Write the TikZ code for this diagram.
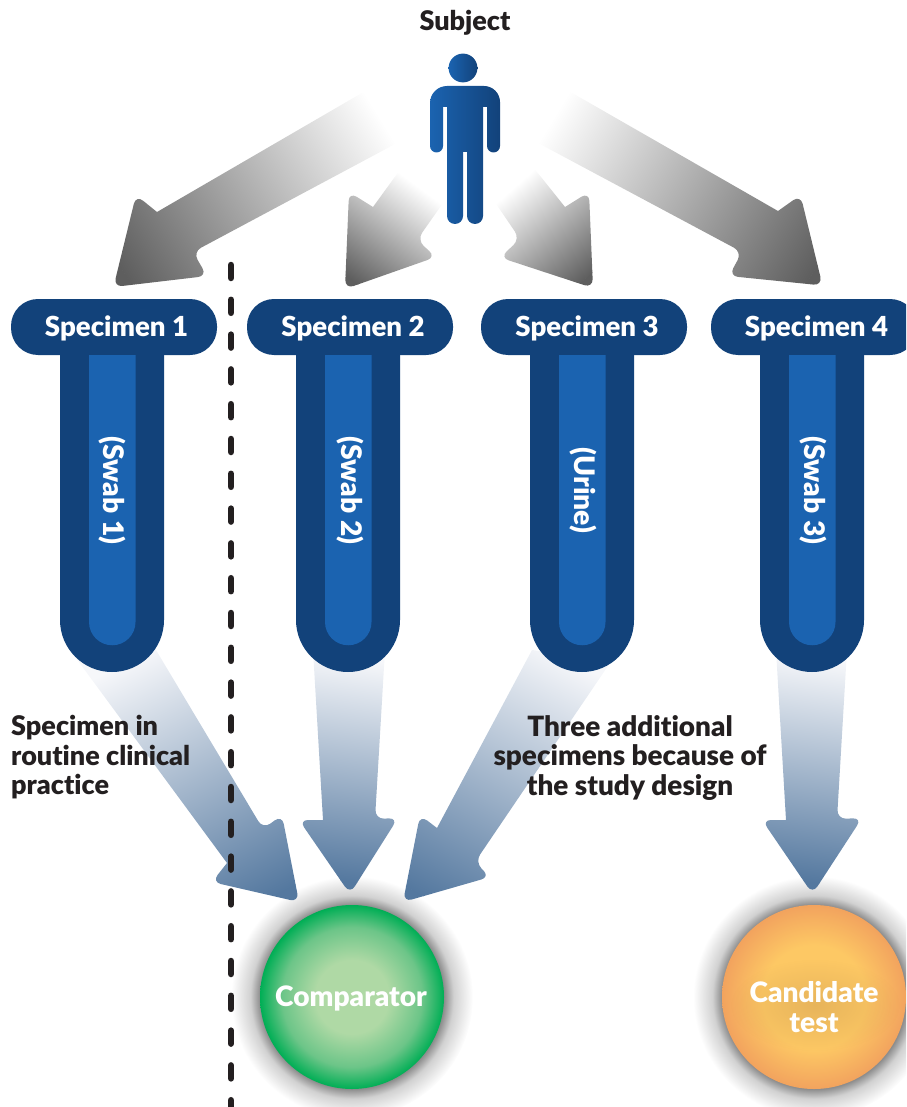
\documentclass[tikz,border=0pt]{standalone}
\usepackage{fontspec}
\setmainfont{Lato Black}[Ligatures=NoCommon]
\usetikzlibrary{fadings}
\definecolor{tubedark}{HTML}{12427A}
\definecolor{tubeblue}{HTML}{1B63B0}
\definecolor{txt}{HTML}{231F20}
\definecolor{gA}{HTML}{5E5E5E}
\definecolor{bA}{HTML}{54789F}
\definecolor{bM}{HTML}{B0BAD3}
\definecolor{bS}{HTML}{F6F7FA}
\definecolor{green1}{HTML}{AFD9A5}
\definecolor{green2}{HTML}{00AE55}
\definecolor{green3}{HTML}{6CC588}
\definecolor{or1}{HTML}{FDC864}
\definecolor{or2}{HTML}{F2A35E}
\pgfdeclareradialshading{glowshade}{\pgfpoint{0bp}{0bp}}{color(0bp)=(black!45);color(19bp)=(black!45);color(21bp)=(black!18);color(25bp)=(white);color(50bp)=(white)}
\pgfdeclareradialshading{greenball}{\pgfpoint{0bp}{0bp}}{color(0bp)=(green1);color(10bp)=(green1);color(19bp)=(green3);color(25bp)=(green2);color(50bp)=(green2)}
\pgfdeclareradialshading{orangeball}{\pgfpoint{0bp}{0bp}}{color(0bp)=(or1);color(14bp)=(or1);color(25bp)=(or2);color(50bp)=(or2)}
\tikzfading[name=softblob,inner color=transparent!55,outer color=transparent!100]
\tikzset{
  x=1pt,y=-1pt,
  pilltop/.style={fill=tubedark,draw=none,rounded corners=27pt},
  tubelabel/.style={text=white,font=\fontsize{28.3}{28.3}\selectfont,rotate=-90,inner sep=0pt},
  pilllabel/.style={text=white,font=\fontsize{27.6}{27.6}\selectfont,inner sep=0pt},
  bodylabel/.style={text=txt,font=\fontsize{27}{29.5}\selectfont,inner sep=0pt},
  midlabel/.style={text=txt,font=\fontsize{27.9}{29.5}\selectfont,inner sep=0pt},
  balllabel/.style={text=white,align=center,font=\fontsize{28.1}{29.5}\selectfont,inner sep=0pt},
  headround/.style={rounded corners=9pt}
}
\newcommand{\gradarrow}[8]{%
  \begin{scope}
    \clip #8;
    \pgfmathsetmacro{\gdx}{#3-#1}\pgfmathsetmacro{\gdy}{#4-#2}
    \pgfmathsetmacro{\gang}{atan2(-\gdy,\gdx)}
    \pgfmathsetmacro{\glen}{veclen(\gdx,\gdy)}
    \begin{scope}[shift={(#1,#2)},rotate=\gang]
      \pgflowlevelsynccm
      \fill[#6] (-400,-400) rectangle (0.5,400);
      \fill[#7] (\glen-0.5,-400) rectangle (\glen+400,400);
      \shade[#5] (0,-400) rectangle (\glen,400);
    \end{scope}
  \end{scope}}
\newcommand{\tube}[2]{% #1 tube left x, #2 pill left x
  \path[pilltop] (#2,299) rectangle (#2+206,355);
  \fill[tubedark] (#1,350) -- (#1+104,350) -- (#1+104,620) arc[start angle=0,end angle=180,radius=52] -- cycle;
  \fill[tubeblue] (#1+29,355) -- (#1+75.5,355) -- (#1+75.5,622) arc[start angle=0,end angle=180,radius=23.25] -- cycle;
}
\begin{document}
\begin{tikzpicture}
\useasboundingbox (0,0) rectangle (906,1107);
\begin{scope}
\clip (0,0) rectangle (906,1107);
% glow
\shade[shading=glowshade] (352,997) circle[radius=121];
\shade[shading=glowshade] (814,997) circle[radius=121];
% grey arrows
\gradarrow{380}{118}{125}{275}{left color=white,right color=gA}{white}{gA}{(367,90) -- (157,212) [headround] -- (136,195) -- (113.5,287) -- (207,276) -- (193,252) [sharp corners] -- (397,143) -- cycle}
\gradarrow{420}{188}{352}{280}{left color=white,right color=gA}{white}{gA}{(402,167) -- (373,207) [headround] -- (349,192) -- (345,289) -- (436,257) -- (417,240) [sharp corners] -- (443,203) -- cycle}
\gradarrow{513}{188}{590}{275}{left color=white,right color=gA}{white}{gA}{(533,167) -- (565,207) [headround] -- (589,192) -- (593,288) -- (500,257.5) -- (520,239) [sharp corners] -- (492,198) -- cycle}
\gradarrow{553}{118}{812}{275}{left color=white,right color=gA}{white}{gA}{(567,90) -- (778,211) [headround] -- (800.5,195) -- (822.5,285.5) -- (729,276) -- (742,252) [sharp corners] -- (538,143) -- cycle}
% blue arrows
\gradarrow{140}{655}{265}{900}{left color=bS,middle color=bM,right color=bA}{bS}{bA}{(70,650) -- (227,863) [headround] -- (212,882) -- (299,902) -- (282,815) -- (263,829) [sharp corners] -- (150,640) -- cycle}
\gradarrow{365}{660}{335}{880}{left color=bS,middle color=bM,right color=bA}{bS}{bA}{(313,650) -- (323,820) [headround] -- (299,820) -- (350,894) -- (398,818) -- (375,819) [sharp corners] -- (385,650) -- cycle}
\gradarrow{570}{660}{440}{905}{left color=bS,middle color=bM,right color=bA}{bS}{bA}{(532,650) -- (437,828) [headround] -- (420,815) -- (403,902) -- (490,877) -- (475,862) [sharp corners] -- (612,660) -- cycle}
\gradarrow{825}{660}{795}{880}{left color=bS,middle color=bM,right color=bA}{bS}{bA}{(776,650) -- (786,820) [headround] -- (762,820) -- (812.5,894) -- (862,818) -- (837,819) [sharp corners] -- (847,650) -- cycle}
% tubes
\tube{60}{11}
\tube{296}{247}
\tube{530}{481}
\tube{760}{711}
% dashed separator
\coordinate (sepTop) at (231,265);
\coordinate (sepEnd) at (231,1112);
\draw[txt,line width=6.5pt,line cap=round,dash pattern=on 13pt off 21.8pt] (sepTop) -- (sepEnd);
% balls
\shade[shading=greenball] (352,997) circle[radius=92];
\shade[shading=orangeball] (814,997) circle[radius=92];
\fill[black!45!or2,path fading=softblob,opacity=.4] (815,1005) ellipse[x radius=85,y radius=46];
% person
\shade[left color=tubeblue,middle color=tubeblue,right color=tubedark] (463,68) circle[radius=14.4];
\shade[left color=tubeblue,middle color=tubeblue,right color=tubedark]
  (447,86) -- (484,86) arc[start angle=-90,end angle=0,radius=16] -- (500,146)
  arc[start angle=0,end angle=180,radius=6.5] -- (487,107) -- (483,107) -- (483,216)
  arc[start angle=0,end angle=180,radius=8] -- (467,152) -- (463,152) -- (463,216)
  arc[start angle=0,end angle=180,radius=8] -- (447,107) -- (443,107) -- (443,146)
  arc[start angle=0,end angle=180,radius=6.5] -- (430,103) arc[start angle=180,end angle=270,radius=17] -- cycle;
% text
\node[bodylabel] (subject) at (465,22.5) {Subject};
\node[pilllabel] (s1) at (116.5,328.5) {Specimen 1};
\node[pilllabel] (s2) at (353,328.5) {Specimen 2};
\node[pilllabel] (s3) at (587,328.5) {Specimen 3};
\node[pilllabel] (s4) at (816.5,328.5) {Specimen 4};
\node[tubelabel] (t1) at (112,490.5) {(Swab 1)};
\node[tubelabel] (t2) at (350,490.5) {(Swab 2)};
\node[tubelabel] (t3) at (583,490.5) {(Urine)};
\node[tubelabel] (t4) at (813,490.5) {(Swab 3)};
\node[bodylabel,align=left,anchor=west] (left) at (11,757.5) {Specimen in\\routine clinical\\practice};
\node[midlabel,align=center] (mid) at (630,757.5) {Three additional\\specimens because of\\the study design};
\node[balllabel] (comp) at (351,998) {Comparator};
\node[balllabel] (cand) at (814,1007) {Candidate\\test};
\end{scope}
\end{tikzpicture}
\end{document}
